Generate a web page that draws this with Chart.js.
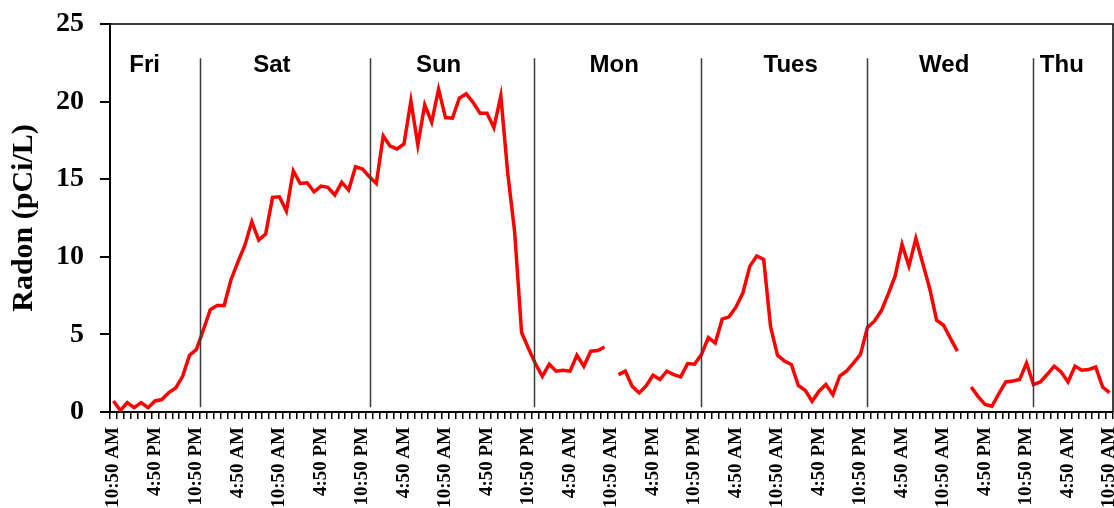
<!DOCTYPE html>
<html>
<head>
<meta charset="utf-8">
<script src="https://cdn.jsdelivr.net/npm/chart.js@4.4.0/dist/chart.umd.min.js"></script>
<style>
    html, body { margin: 0; padding: 0; background: #ffffff; }
    #wrap { width: 1114px; height: 508px; }
</style>
</head>
<body>
<div id="wrap"><canvas id="radonChart" width="1114" height="508"></canvas></div>
<script>
// hourly readings, Fri 10:50 AM -> Thu 10:50 AM (null = missing reading)
const radon = [
    0.71, 0.1, 0.6, 0.28, 0.6, 0.28, 0.71, 0.8, 1.25, 1.55, 2.3, 3.66, 4.03, 5.3, 6.6, 6.86, 6.86, 8.54, 9.68, 10.75, 12.26, 11.08, 11.46, 13.83, 13.87,
    12.95, 15.53, 14.73, 14.77, 14.19, 14.56, 14.48, 13.98, 14.8, 14.3, 15.8, 15.66, 15.16, 14.73, 17.79, 17.14, 16.95, 17.27, 20.05, 17.2, 19.79, 18.67, 20.8, 18.97, 18.93,
    20.22, 20.5, 19.94, 19.25, 19.25, 18.32, 20.37, 15.38, 11.61, 5.12, 4.09, 3.12, 2.3, 3.08, 2.63, 2.69, 2.63, 3.66, 2.95, 3.92, 3.96, 4.19, null, 2.41, 2.63,
    1.65, 1.23, 1.68, 2.37, 2.09, 2.63, 2.41, 2.26, 3.12, 3.08, 3.7, 4.8, 4.45, 5.98, 6.13, 6.77, 7.68, 9.4, 10.05, 9.83, 5.48, 3.66, 3.29, 3.06, 1.72,
    1.4, 0.69, 1.34, 1.77, 1.12, 2.32, 2.65, 3.16, 3.72, 5.45, 5.85, 6.52, 7.59, 8.75, 10.8, 9.4, 11.19, 9.57, 7.96, 5.92, 5.59, 4.74, 3.92, null, 1.61,
    0.99, 0.49, 0.37, 1.19, 1.94, 2.0, 2.09, 3.16, 1.77, 1.94, 2.43, 2.95, 2.58, 1.94, 2.95, 2.69, 2.74, 2.9, 1.61, 1.25
];

// one label every 6 hours
const tickLabels = [
    '10:50 AM', '4:50 PM', '10:50 PM', '4:50 AM',
    '10:50 AM', '4:50 PM', '10:50 PM', '4:50 AM',
    '10:50 AM', '4:50 PM', '10:50 PM', '4:50 AM',
    '10:50 AM', '4:50 PM', '10:50 PM', '4:50 AM',
    '10:50 AM', '4:50 PM', '10:50 PM', '4:50 AM',
    '10:50 AM', '4:50 PM', '10:50 PM', '4:50 AM',
    '10:50 AM'
];

const days = ['Fri', 'Sat', 'Sun', 'Mon', 'Tues', 'Wed', 'Thu'];
const dayLabelAt = [4.5, 22.9, 47.0, 72.4, 97.9, 120.1, 137.1];   // hour index
const dayBreaks = [12.5, 37.1, 60.8, 84.9, 109.0, 133.0];         // hour index

const hours = radon.map((v, i) => i);

const dayMarkers = {
    id: 'dayMarkers',
    afterDatasetsDraw(chart) {
        const { ctx, chartArea, scales: { x, y } } = chart;
        ctx.save();
        // day separators
        ctx.strokeStyle = '#3a3a3a';
        ctx.lineWidth = 1.5;
        const top = y.getPixelForValue(22.8);
        const bottom = y.getPixelForValue(0.3);
        dayBreaks.forEach(h => {
            const px = Math.round(x.getPixelForValue(h)) + 0.5;
            ctx.beginPath();
            ctx.moveTo(px, top);
            ctx.lineTo(px, bottom);
            ctx.stroke();
        });
        // day names
        ctx.fillStyle = '#000';
        ctx.font = 'bold 24px "Liberation Sans", Arial, sans-serif';
        ctx.textAlign = 'center';
        ctx.textBaseline = 'alphabetic';
        days.forEach((d, i) => {
            ctx.fillText(d, x.getPixelForValue(dayLabelAt[i]), 71.5);
        });
        // plot frame, top and right
        ctx.strokeStyle = '#000';
        ctx.lineWidth = 1.5;
        ctx.beginPath();
        ctx.moveTo(chartArea.left, chartArea.top);
        ctx.lineTo(chartArea.right, chartArea.top);
        ctx.lineTo(chartArea.right, chartArea.bottom);
        ctx.stroke();
        ctx.restore();
    }
};

new Chart(document.getElementById('radonChart').getContext('2d'), {
    type: 'line',
    data: {
        labels: hours,
        datasets: [{
            label: 'Radon',
            data: radon,
            borderColor: '#FF0000',
            borderWidth: 3.5,
            pointRadius: 0,
            tension: 0,
            spanGaps: false
        }]
    },
    options: {
        responsive: false,
        animation: false,
        layout: { padding: { top: 24, right: 1, left: 0, bottom: 0 } },
        plugins: {
            legend: { display: false },
            tooltip: { enabled: false }
        },
        scales: {
            x: {
                type: 'category',
                offset: true,
                grid: {
                    offset: true,
                    drawOnChartArea: false,
                    tickLength: 7,
                    color: '#000',
                    lineWidth: 1.5
                },
                border: { color: '#000', width: 2 },
                ticks: {
                    autoSkip: false,
                    minRotation: 90,
                    maxRotation: 90,
                    padding: 8,
                    color: '#000',
                    font: { family: '"Liberation Serif", "Times New Roman", serif', weight: 'bold', size: 19 },
                    callback: (val, i) => (i % 6 === 0 ? tickLabels[i / 6] : '')
                },
                afterFit(scale) {
                    scale.height = 96;
                    scale.paddingLeft = 0;
                    scale.paddingRight = 0;
                }
            },
            y: {
                min: 0,
                max: 25,
                ticks: {
                    stepSize: 5,
                    padding: 16,
                    color: '#000',
                    font: { family: '"Liberation Serif", "Times New Roman", serif', weight: 'bold', size: 28 }
                },
                grid: {
                    drawOnChartArea: false,
                    tickLength: 10,
                    color: '#000',
                    lineWidth: 2
                },
                border: { color: '#000', width: 2 },
                title: {
                    display: true,
                    text: 'Radon (pCi/L)',
                    color: '#000',
                    padding: { top: 6, bottom: 0 },
                    font: { family: '"Liberation Serif", "Times New Roman", serif', weight: 'bold', size: 30, lineHeight: 1.2 }
                },
                afterFit(scale) {
                    scale.width = 110;
                    scale.paddingTop = 0;
                    scale.paddingBottom = 0;
                }
            }
        }
    },
    plugins: [dayMarkers]
});
</script>
</body>
</html>
